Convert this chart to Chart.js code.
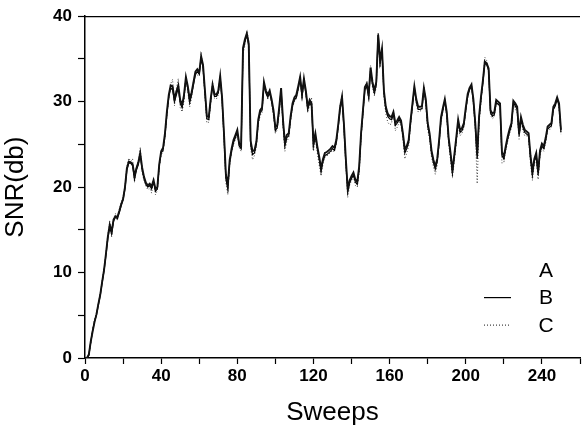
<!DOCTYPE html>
<html>
<head>
<meta charset="utf-8">
<script src="https://cdn.jsdelivr.net/npm/chart.js@4/dist/chart.umd.min.js"></script>
<style>
  html, body { margin: 0; padding: 0; background: #fff; }
  #wrap { width: 582px; height: 434px; }
</style>
</head>
<body>
<div id="wrap"><canvas id="snrChart"></canvas></div>
<script>
// sweep index for every reading (0..250)
const sweeps = Array.from({length: 251}, (_, i) => i);

const seriesNames = ['A', 'B', 'C'];

const snrA = [
  0,0,0.4,1.9,3.1,4.2,5.1,6.3,7.4,8.9,
  10.3,12.2,14.2,15.6,14.8,16.2,16.6,16.5,17.2,18,
  18.6,20,22.2,23,22.9,22.7,21.3,22.2,22.9,24,
  22.3,21.2,20.5,20.2,20.4,20.1,20.8,19.8,20,22.7,
  24.2,24.6,26.3,28.8,30.8,31.9,31.8,30.3,31.2,31.9,
  30.2,29.6,30.8,32.9,31.8,30.3,31.1,32.3,33.5,33.8,
  33.4,35.3,34.3,31.3,28.3,28.2,30.3,32,30.9,30.8,
  31.3,33,30.5,26.3,21.5,20.2,23.2,24.5,25.5,26.1,
  26.7,25.1,24.8,36.3,37.3,38,36.8,25.4,24.2,24.3,
  25.3,27.9,29,29.3,32.3,31.3,30.8,31.3,30.3,29,
  27,27.3,29.3,31.6,27.9,25.2,26.1,26.3,28.3,29.8,
  30.5,30.8,31.8,32.9,30.9,32.7,31.3,29.4,30.2,29.8,
  25.2,26.3,24.8,23.6,22.2,23.3,24,24.1,24.3,24.5,
  24.8,24.6,25.5,27.3,29.4,30.6,27.4,23.3,19.8,20.8,
  21.3,21.7,20.9,20.6,22.4,26.3,29,31.7,32.1,30.8,
  34,32.3,31.3,32.3,37.8,34.8,36.2,31.3,29.4,28.6,
  28.3,28.2,28.8,27.5,27.8,28.2,27.8,26.3,24.4,24.8,
  25.5,27.8,29.8,31.8,30.3,29.4,29.4,29.5,31.6,30.3,
  27.5,26.3,24.3,23.2,22.4,23.3,25.5,28.2,29.3,30.3,
  28.8,25.8,24,22,23.8,25.8,27.9,26.7,26.9,27.5,
  29.3,30.9,31.6,32,30.3,27.5,23.8,28.3,30.6,32.5,
  34.7,34.5,33.9,29,28.6,28.8,30.2,30,29.8,24.1,
  23.6,24.8,25.9,26.8,27.5,30.1,29.8,29.4,26.3,28.2,
  27.3,26.7,26.5,26.3,23.7,21.8,23.3,24,21.8,24.3,
  25.1,24.8,25.8,27.1,27.3,27.5,29.4,29.8,30.5,29.8,
  26.7
];

const snrB = [
  0,0,0.3,1.8,3.2,4.3,5.0,6.2,7.3,8.8,
  10.2,12,14,15.3,14.5,16,16.5,16.3,17,17.8,
  18.5,19.8,22,22.8,22.8,22.5,20.9,22,22.6,23.8,
  22,21,20.3,20,20.2,19.8,20.6,19.5,19.8,22.5,
  24,24.3,26,28.5,30.5,31.6,31.4,30,30.8,31.6,
  29.8,29.3,30.5,32.6,31.5,29.9,30.8,32,33.2,33.5,
  33.2,35,34,31,28,27.9,30,31.8,30.6,30.6,
  31,32.8,30.2,26,21,19.8,22.9,24.2,25.2,25.8,
  26.4,24.8,24.5,36,37,37.8,36.5,25,23.8,24,
  25,27.6,28.7,29,32,31,30.5,31,30,28.7,
  26.6,27,29,31.4,27.5,24.8,25.8,26,28,29.5,
  30.2,30.5,31.5,32.6,30.6,32.4,31,29.1,29.9,29.5,
  24.8,26,24.5,23.3,21.8,23,23.7,23.8,24,24.2,
  24.5,24.3,25.2,27,29.1,30.3,27,22.9,19.4,20.5,
  21,21.4,20.6,20.3,22.1,26,28.7,31.4,31.8,30.5,
  33.7,32,31,32,38,34.5,36,31,29.1,28.3,
  28,27.9,28.5,27.2,27.5,27.9,27.5,26,24,24.5,
  25.2,27.5,29.5,31.6,30,29.1,29.1,29.2,31.4,30,
  27.2,26,24,22.9,22.1,23,25.2,27.9,29,30.1,
  28.5,25.5,23.7,21.6,23.5,25.5,27.6,26.4,26.6,27.2,
  29,30.6,31.4,31.8,30,27.2,23.3,28,30.3,32.2,
  34.5,34.3,33.7,28.7,28.3,28.5,29.9,29.7,29.5,23.7,
  23.3,24.5,25.6,26.5,27.2,29.9,29.5,29.1,26,27.9,
  27,26.4,26.2,26,23.3,21.4,23,23.7,21.4,24,
  24.8,24.5,25.5,26.8,27,27.2,29.1,29.5,30.3,29.5,
  26.4
];

const snrC = [
  0,0,0.2,1.7,3.3,4.5,5.2,6.4,7.5,9,
  10.4,12.3,14.5,16,14.2,16.3,16.9,16.1,17.3,18.2,
  18.9,20.1,22.4,23.4,23,23.3,20.6,22.3,23,24.6,
  21.8,20.7,20.1,19.7,19.9,19.3,21.1,19.1,19.6,22.3,
  23.8,24.1,25.8,28.3,30.4,32.1,32.6,29.5,31.5,32.7,
  29.3,28.8,30.1,33,31.2,29.4,30.5,32.4,33.5,33.1,
  33,35.8,33.8,30.6,27.5,27.6,29.7,32.3,30.4,30.3,
  30.8,32.9,29.8,25.5,20.5,19.1,22.5,24,25,25.6,
  26.2,24.6,24.2,35.6,36.6,38.3,37.2,24.5,23.2,23.7,
  24.7,27.3,28.4,28.7,31.8,31.5,30.2,31.5,29.8,28.3,
  26.3,26.7,28.7,31.3,27.1,24.2,25.4,25.7,27.7,29.3,
  30,30.3,31.3,33,30.3,32.8,30.8,28.7,29.6,30.5,
  24.2,25.7,24,22.6,21.3,22.7,23.5,23.6,23.9,24,
  24.3,24.1,25,27,29.5,30.8,26.7,22.5,18.8,20.2,
  20.8,21.2,20.2,20,21.7,25.7,28.5,31.6,32.4,30.2,
  34.2,31.7,30.7,31.7,37.5,34,36.4,30.5,28.6,27.6,
  27.3,27.4,29,26.6,27,27.6,27.2,25.6,23.3,24,
  24.8,27.2,29.3,31.9,29.7,28.8,28.9,29,31.8,29.6,
  26.8,25.6,23.5,22.4,21.5,22.6,25,27.6,28.8,30.3,
  28.2,25.1,23.2,21.2,23.1,25.2,27.3,26,26.3,27,
  28.8,30.4,31.7,32,29.6,26.6,20.4,27.5,30,32.4,
  35.2,34.8,33.4,28.4,28,28.2,29.7,29.9,29.2,22.8,
  22.9,24.2,25.3,26.2,27,29.8,29.1,28.7,25.6,28.1,
  26.6,26,26,25.7,22.8,20.8,22.7,23.4,20.9,23.8,
  24.5,24.2,25.2,26.6,26.7,27,29,29.7,30.6,29.2,
  26.2
];

const xTickLabels = [0, 40, 80, 120, 160, 200, 240];
const yTickLabels = [0, 10, 20, 30, 40];

const toPoints = (ys) => ys.map((y, i) => ({x: sweeps[i], y: y}));

// frame line on top + hand drawn legend (A has no sample in the original)
const framePlugin = {
  id: 'frameAndKey',
  afterDraw(chart) {
    const {ctx, chartArea} = chart;
    ctx.save();
    ctx.strokeStyle = '#000';
    ctx.lineWidth = 1.2;
    ctx.beginPath();
    ctx.moveTo(chartArea.left, chartArea.top + 0.5);
    ctx.lineTo(chartArea.right, chartArea.top + 0.5);
    ctx.stroke();

    const textX = chartArea.right - 34;
    const lineX0 = chartArea.right - 96;
    const lineX1 = chartArea.right - 69;
    ctx.font = '21px "Liberation Sans", Arial, sans-serif';
    ctx.fillStyle = '#000';
    ctx.textAlign = 'center';
    ctx.textBaseline = 'middle';
    chart.data.datasets.forEach((ds, i) => {
      const y = 271 + i * 27.6;
      ctx.fillText(ds.label, textX, y);
      if (ds.keySample) {
        ctx.beginPath();
        ctx.lineWidth = 1.2;
        ctx.strokeStyle = ds.borderColor;
        ctx.setLineDash(ds.borderDash || []);
        ctx.moveTo(lineX0, y - 1);
        ctx.lineTo(lineX1, y - 1);
        ctx.stroke();
        ctx.setLineDash([]);
      }
    });
    ctx.restore();
  }
};

const ctx = document.getElementById('snrChart').getContext('2d');
new Chart(ctx, {
  type: 'line',
  data: {
    datasets: [
      {label: seriesNames[0], data: toPoints(snrA), borderColor: '#111', borderWidth: 1.9, keySample: false},
      {label: seriesNames[1], data: toPoints(snrB), borderColor: '#000', borderWidth: 1.2, keySample: true},
      {label: seriesNames[2], data: toPoints(snrC), borderColor: '#444', borderWidth: 1, borderDash: [1, 2], keySample: true}
    ]
  },
  options: {
    responsive: true,
    maintainAspectRatio: false,
    animation: false,
    layout: {padding: {top: 13, right: 0, bottom: 0, left: 0}},
    elements: {point: {radius: 0}, line: {tension: 0}},
    plugins: {legend: {display: false}, tooltip: {enabled: false}},
    scales: {
      x: {
        type: 'linear',
        min: 0,
        max: 260,
        afterFit: (scale) => { scale.height = 76; },
        border: {color: '#000', width: 1.5},
        grid: {drawOnChartArea: false, tickLength: 6, color: '#000', tickWidth: 1.2},
        ticks: {
          stepSize: 20,
          padding: 2,
          maxRotation: 0,
          autoSkip: false,
          color: '#000',
          font: {family: '"Liberation Sans", Arial, sans-serif', size: 17, weight: 'bold'},
          callback: (v) => xTickLabels.includes(v) ? String(v) : ''
        },
        title: {
          display: true,
          text: 'Sweeps',
          color: '#000',
          padding: {top: 0, bottom: 6},
          font: {family: '"Liberation Sans", Arial, sans-serif', size: 26}
        }
      },
      y: {
        min: 0,
        max: 40,
        afterFit: (scale) => { scale.width = 85; },
        border: {color: '#000', width: 1.5},
        grid: {drawOnChartArea: false, tickLength: 7, color: '#000', tickWidth: 1.2},
        ticks: {
          stepSize: 5,
          padding: 6,
          autoSkip: false,
          color: '#000',
          font: {family: '"Liberation Sans", Arial, sans-serif', size: 17, weight: 'bold'},
          callback: (v) => yTickLabels.includes(v) ? String(v) : ''
        },
        title: {
          display: true,
          text: 'SNR(db)',
          color: '#000',
          padding: {top: 0, bottom: 6},
          font: {family: '"Liberation Sans", Arial, sans-serif', size: 26}
        }
      }
    }
  },
  plugins: [framePlugin]
});
</script>
</body>
</html>
